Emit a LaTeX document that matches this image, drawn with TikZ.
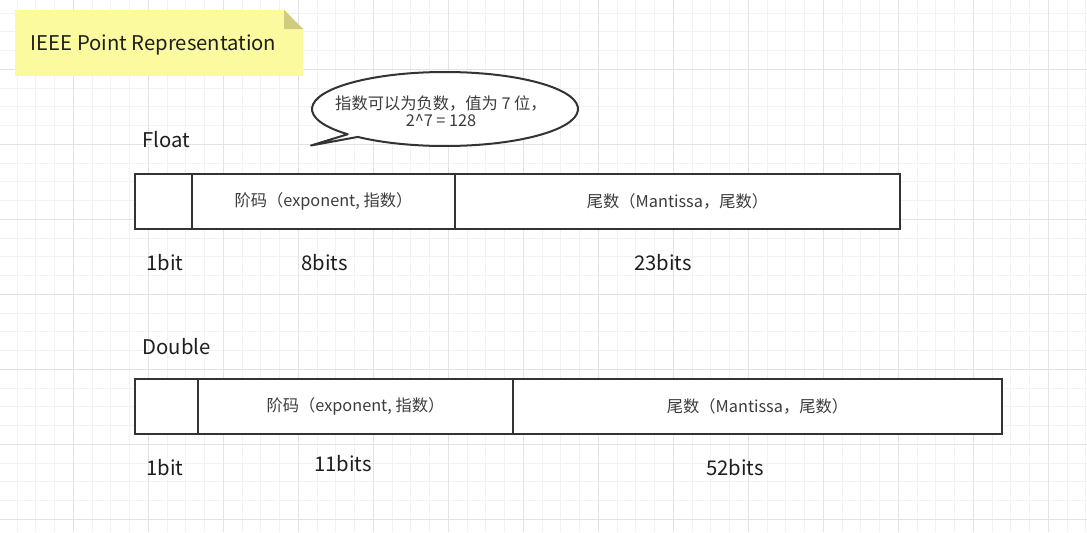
\documentclass[tikz,border=0pt]{standalone}
\usepackage{fontspec}
\usetikzlibrary{calc}
\setmainfont{Noto Sans CJK SC}
\definecolor{gridminor}{HTML}{F2F2F2}
\definecolor{gridmajor}{HTML}{E3E3E3}
\definecolor{notefill}{HTML}{FBFA9E}
\definecolor{notefold}{HTML}{CFCC80}
\definecolor{stroke}{HTML}{333333}
\definecolor{boxtext}{HTML}{3C3C3C}
\definecolor{labeltext}{HTML}{1E1E1E}
\tikzset{
  cell/.style={draw=stroke, line width=1.5pt, fill=white, minimum height={55*0.75pt}, inner sep=0pt, text=boxtext, font=\fontsize{12.2pt}{14pt}\selectfont},
  biglabel/.style={text=labeltext, font=\fontsize{15.2pt}{18pt}\selectfont, inner sep=0pt},
  bubbletext/.style={text=boxtext, font=\fontsize{12.2pt}{12.8pt}\selectfont, align=center, inner sep=0pt},
  bubble/.style={draw=stroke, line width=1.5pt, fill=white, line join=round},
}
\begin{document}
\begin{tikzpicture}[x=0.75pt, y=-0.75pt]
\useasboundingbox (0,0) rectangle (1087,532);
\fill[white] (0,0) rectangle (1087,532);
% grid
\foreach \i in {0,...,58} {\draw[gridminor, line width=0.75pt] ({-1.7+18.75*\i},0) -- ({-1.7+18.75*\i},532);}
\foreach \i in {0,...,29} {\draw[gridminor, line width=0.75pt] (0,{-5.7+18.75*\i}) -- (1087,{-5.7+18.75*\i});}
\foreach \i in {0,...,14} {\draw[gridmajor, line width=0.75pt] ({-1.7+75*\i},0) -- ({-1.7+75*\i},532);}
\foreach \i in {0,...,7} {\draw[gridmajor, line width=0.75pt] (0,{-5.7+75*\i}) -- (1087,{-5.7+75*\i});}
% note
\fill[notefill] (15,10) -- (284,10) -- (303,29) -- (303,76) -- (15,76) -- cycle;
\fill[notefold] (284,10) -- (303,29) -- (284,29) -- cycle;
\node[biglabel, anchor=base west] (title) at (30.5,50) {IEEE Point Representation};
% speech bubble
\coordinate (tip) at (311,145.5);
\coordinate (bc) at (445,109);
\draw[bubble] (tip) -- ($(bc)+(137:133 and 37)$) arc[start angle=137, end angle=491, x radius=133, y radius=37] -- cycle;
\node[bubbletext] (note) at (441,111) {指数可以为负数，值为 7 位，\\2\textasciicircum 7 = 128};
% Float
\node[biglabel, anchor=base west] (float) at (142.5,147) {Float};
\node[cell, minimum width={57*0.75pt}] (fs) at (163.5,201.75) {};
\node[cell, minimum width={263*0.75pt}] (fe) at (323.5,201.75) {阶码（exponent, 指数）};
\node[cell, minimum width={445*0.75pt}] (fm) at (677.5,201.75) {尾数（Mantissa，尾数）};
\node[biglabel, anchor=base west] (f1) at (146,270) {1bit};
\node[biglabel, anchor=base west] (f8) at (301,270) {8bits};
\node[biglabel, anchor=base west] (f23) at (634,270) {23bits};
% Double
\node[biglabel, anchor=base west] (double) at (142.5,354) {Double};
\node[cell, minimum width={63*0.75pt}] (ds) at (166.5,406.5) {};
\node[cell, minimum width={315*0.75pt}] (de) at (355.5,406.5) {阶码（exponent, 指数）};
\node[cell, minimum width={489*0.75pt}] (dm) at (757.5,406.5) {尾数（Mantissa，尾数）};
\node[biglabel, anchor=base west] (d1) at (146,475) {1bit};
\node[biglabel, anchor=base west] (d11) at (314,471) {11bits};
\node[biglabel, anchor=base west] (d52) at (706,475) {52bits};
\end{tikzpicture}
\end{document}
